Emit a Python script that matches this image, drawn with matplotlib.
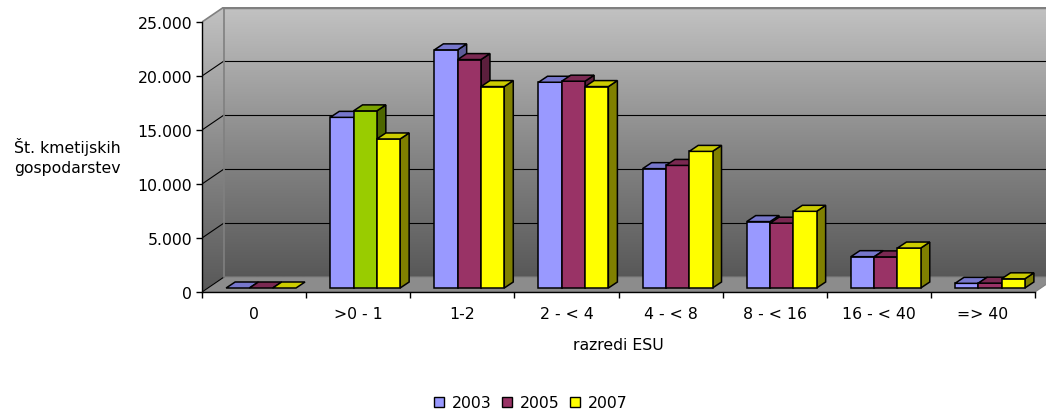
import numpy as np
import matplotlib
matplotlib.use('Agg')
import matplotlib.pyplot as plt
from matplotlib.patches import Polygon, Rectangle, Patch
from matplotlib.colors import LinearSegmentedColormap
from matplotlib.ticker import FuncFormatter

# data
categories = ['0', '>0 - 1', '1-2', '2 - < 4', '4 - < 8', '8 - < 16', '16 - < 40', '=> 40']
years = ['2003', '2005', '2007']
v2003 = [0, 15800, 22050, 19050, 11050, 6150, 2900, 430]
v2005 = [0, 16400, 21150, 19150, 11350, 6000, 2880, 450]
v2007 = [0, 13800, 18650, 18650, 12650, 7100, 3700, 850]
series = [v2003, v2005, v2007]

# colours: front, top, side
face = ['#9999FF', '#993366', '#FFFF00']
top = ['#7777CC', '#7A2952', '#CCCC00']
side = ['#5C5C99', '#5C1F3D', '#808000']
# one point in excel had its own colour (2005, '>0 - 1')
odd_point = (1, 1)
odd_cols = ('#99CC00', '#7AA300', '#4D6600')

# layout in pixels
W, H = 1046, 414
ax_left, ax_base = 202, 293
slot_px = 833 / 8
px_per_unit = 270 / 25000
wall_dx, wall_dy = 22, 15
bar_px = 23.3
shift_dx, shift_dy = 7, 4
bdx, bdy = 9, 6

plt.rcParams['font.family'] = 'DejaVu Sans'
fs = 11.3

fig = plt.figure(figsize=(W / 100, H / 100), dpi=100)
ymax = 25000
ax_w = 8 * slot_px + wall_dx
ax_h = ymax * px_per_unit + wall_dy
ax = fig.add_axes([ax_left / W, (H - ax_base) / H, ax_w / W, ax_h / H])
ax.set_facecolor('none')


def dx(p):
    return p / slot_px


def dy(p):
    return p / px_per_unit


WX, WY = dx(wall_dx), dy(wall_dy)
n = len(categories)

# back wall with gradient
cmap = LinearSegmentedColormap.from_list('wall', ['#585858', '#8a8a8a', '#c2c2c2'])
grad = np.linspace(0, 1, 256).reshape(-1, 1)
ax.imshow(grad, extent=[WX, n + WX, WY, ymax + WY], origin='lower', aspect='auto',
          cmap=cmap, zorder=0, interpolation='bilinear')
# side wall
side_poly = Polygon([(0, 0), (WX, WY), (WX, ymax + WY), (0, ymax)], closed=True,
                    transform=ax.transData, facecolor='none', edgecolor='none')
ax.add_patch(side_poly)
im2 = ax.imshow(grad, extent=[0, WX, 0, ymax + WY], origin='lower', aspect='auto',
                cmap=cmap, zorder=0, interpolation='bilinear')
im2.set_clip_path(side_poly)
# floor
ax.add_patch(Polygon([(0, 0), (n, 0), (n + WX, WY), (WX, WY)], closed=True,
                     facecolor='#8c8c8c', edgecolor='#808080', lw=0.8, zorder=1))

# gridlines: back wall and diagonal on side wall
yticks = np.arange(0, ymax + 1, 5000)
for t in yticks[1:-1]:
    ax.plot([WX, n + WX], [t + WY, t + WY], color='black', lw=0.8, zorder=1)
for t in yticks[:-1]:
    ax.plot([0, WX], [t, t + WY], color='black', lw=0.8, zorder=1)
ax.plot([0, WX, WX], [ymax, ymax + WY, WY], color='#808080', lw=1.2, zorder=1)
ax.plot([WX, n + WX], [ymax + WY, ymax + WY], color='#808080', lw=2.5, zorder=1)

# bars
bw = dx(bar_px)
sx, sy = dx(shift_dx), dy(shift_dy)
ddx, ddy = dx(bdx), dy(bdy)
ec = dict(edgecolor='black', lw=1.1, joinstyle='miter')
for i in range(n):
    x_start = i + 0.5 - 1.5 * bw + sx
    for j, vals in enumerate(series):
        v = vals[i]
        fc, tc, sc = face[j], top[j], side[j]
        if (i, j) == odd_point:
            fc, tc, sc = odd_cols
        x0 = x_start + j * bw
        x1 = x0 + bw
        z = 3 + i * 3 + j
        if v > 0:
            ax.add_patch(Polygon([(x1, sy), (x1 + ddx, sy + ddy), (x1 + ddx, v + sy + ddy), (x1, v + sy)],
                                 closed=True, facecolor=sc, zorder=z, **ec))
            ax.add_patch(Rectangle((x0, sy), bw, v, facecolor=fc, zorder=z, **ec))
        ax.add_patch(Polygon([(x0, v + sy), (x1, v + sy), (x1 + ddx, v + sy + ddy), (x0 + ddx, v + sy + ddy)],
                             closed=True, facecolor=tc, zorder=z, **ec))

ax.set_xlim(0, n + WX)
ax.set_ylim(0, ymax + WY)

for s in ['top', 'right']:
    ax.spines[s].set_visible(False)
ax.spines['left'].set_bounds(0, ymax)
ax.spines['bottom'].set_bounds(0, n)
for s in ['left', 'bottom']:
    ax.spines[s].set_linewidth(1.0)
    ax.spines[s].set_zorder(50)

ax.set_yticks(yticks)
ax.yaxis.set_major_formatter(FuncFormatter(lambda v, p: f'{int(v):,}'.replace(',', '.')))
ax.tick_params(axis='y', length=4, width=1.0, pad=3, labelsize=fs)
ax.set_xticks(np.arange(n + 1))
ax.set_xticklabels([])
ax.set_xticks(np.arange(n) + 0.5, minor=True)
ax.set_xticklabels(categories, minor=True)
ax.tick_params(axis='x', which='major', length=4, width=1.0)
ax.tick_params(axis='x', which='minor', length=0, pad=10, labelsize=fs)

ax.set_xlabel('razredi ESU', fontsize=fs)
ax.xaxis.set_label_coords((n / 2) / (n + WX), -(346 - ax_base) / ax_h)
ax.xaxis.label.set_va('center')
ax.set_ylabel('Št. kmetijskih\ngospodarstev', rotation=0, fontsize=fs,
              ha='center', va='center', linespacing=1.45)
ax.yaxis.set_label_coords((67 - ax_left) / ax_w, (ax_base - 157) / ax_h)

handles = [Patch(facecolor=c, edgecolor='black', lw=1.0) for c in face]
fig.legend(handles, years, loc='center', bbox_to_anchor=(531 / W, 10 / H), ncol=3,
           frameon=False, fontsize=fs, handlelength=0.65, handleheight=0.65,
           handletextpad=0.5, columnspacing=0.65, borderpad=0)

fig.savefig('out.png', dpi=100)
